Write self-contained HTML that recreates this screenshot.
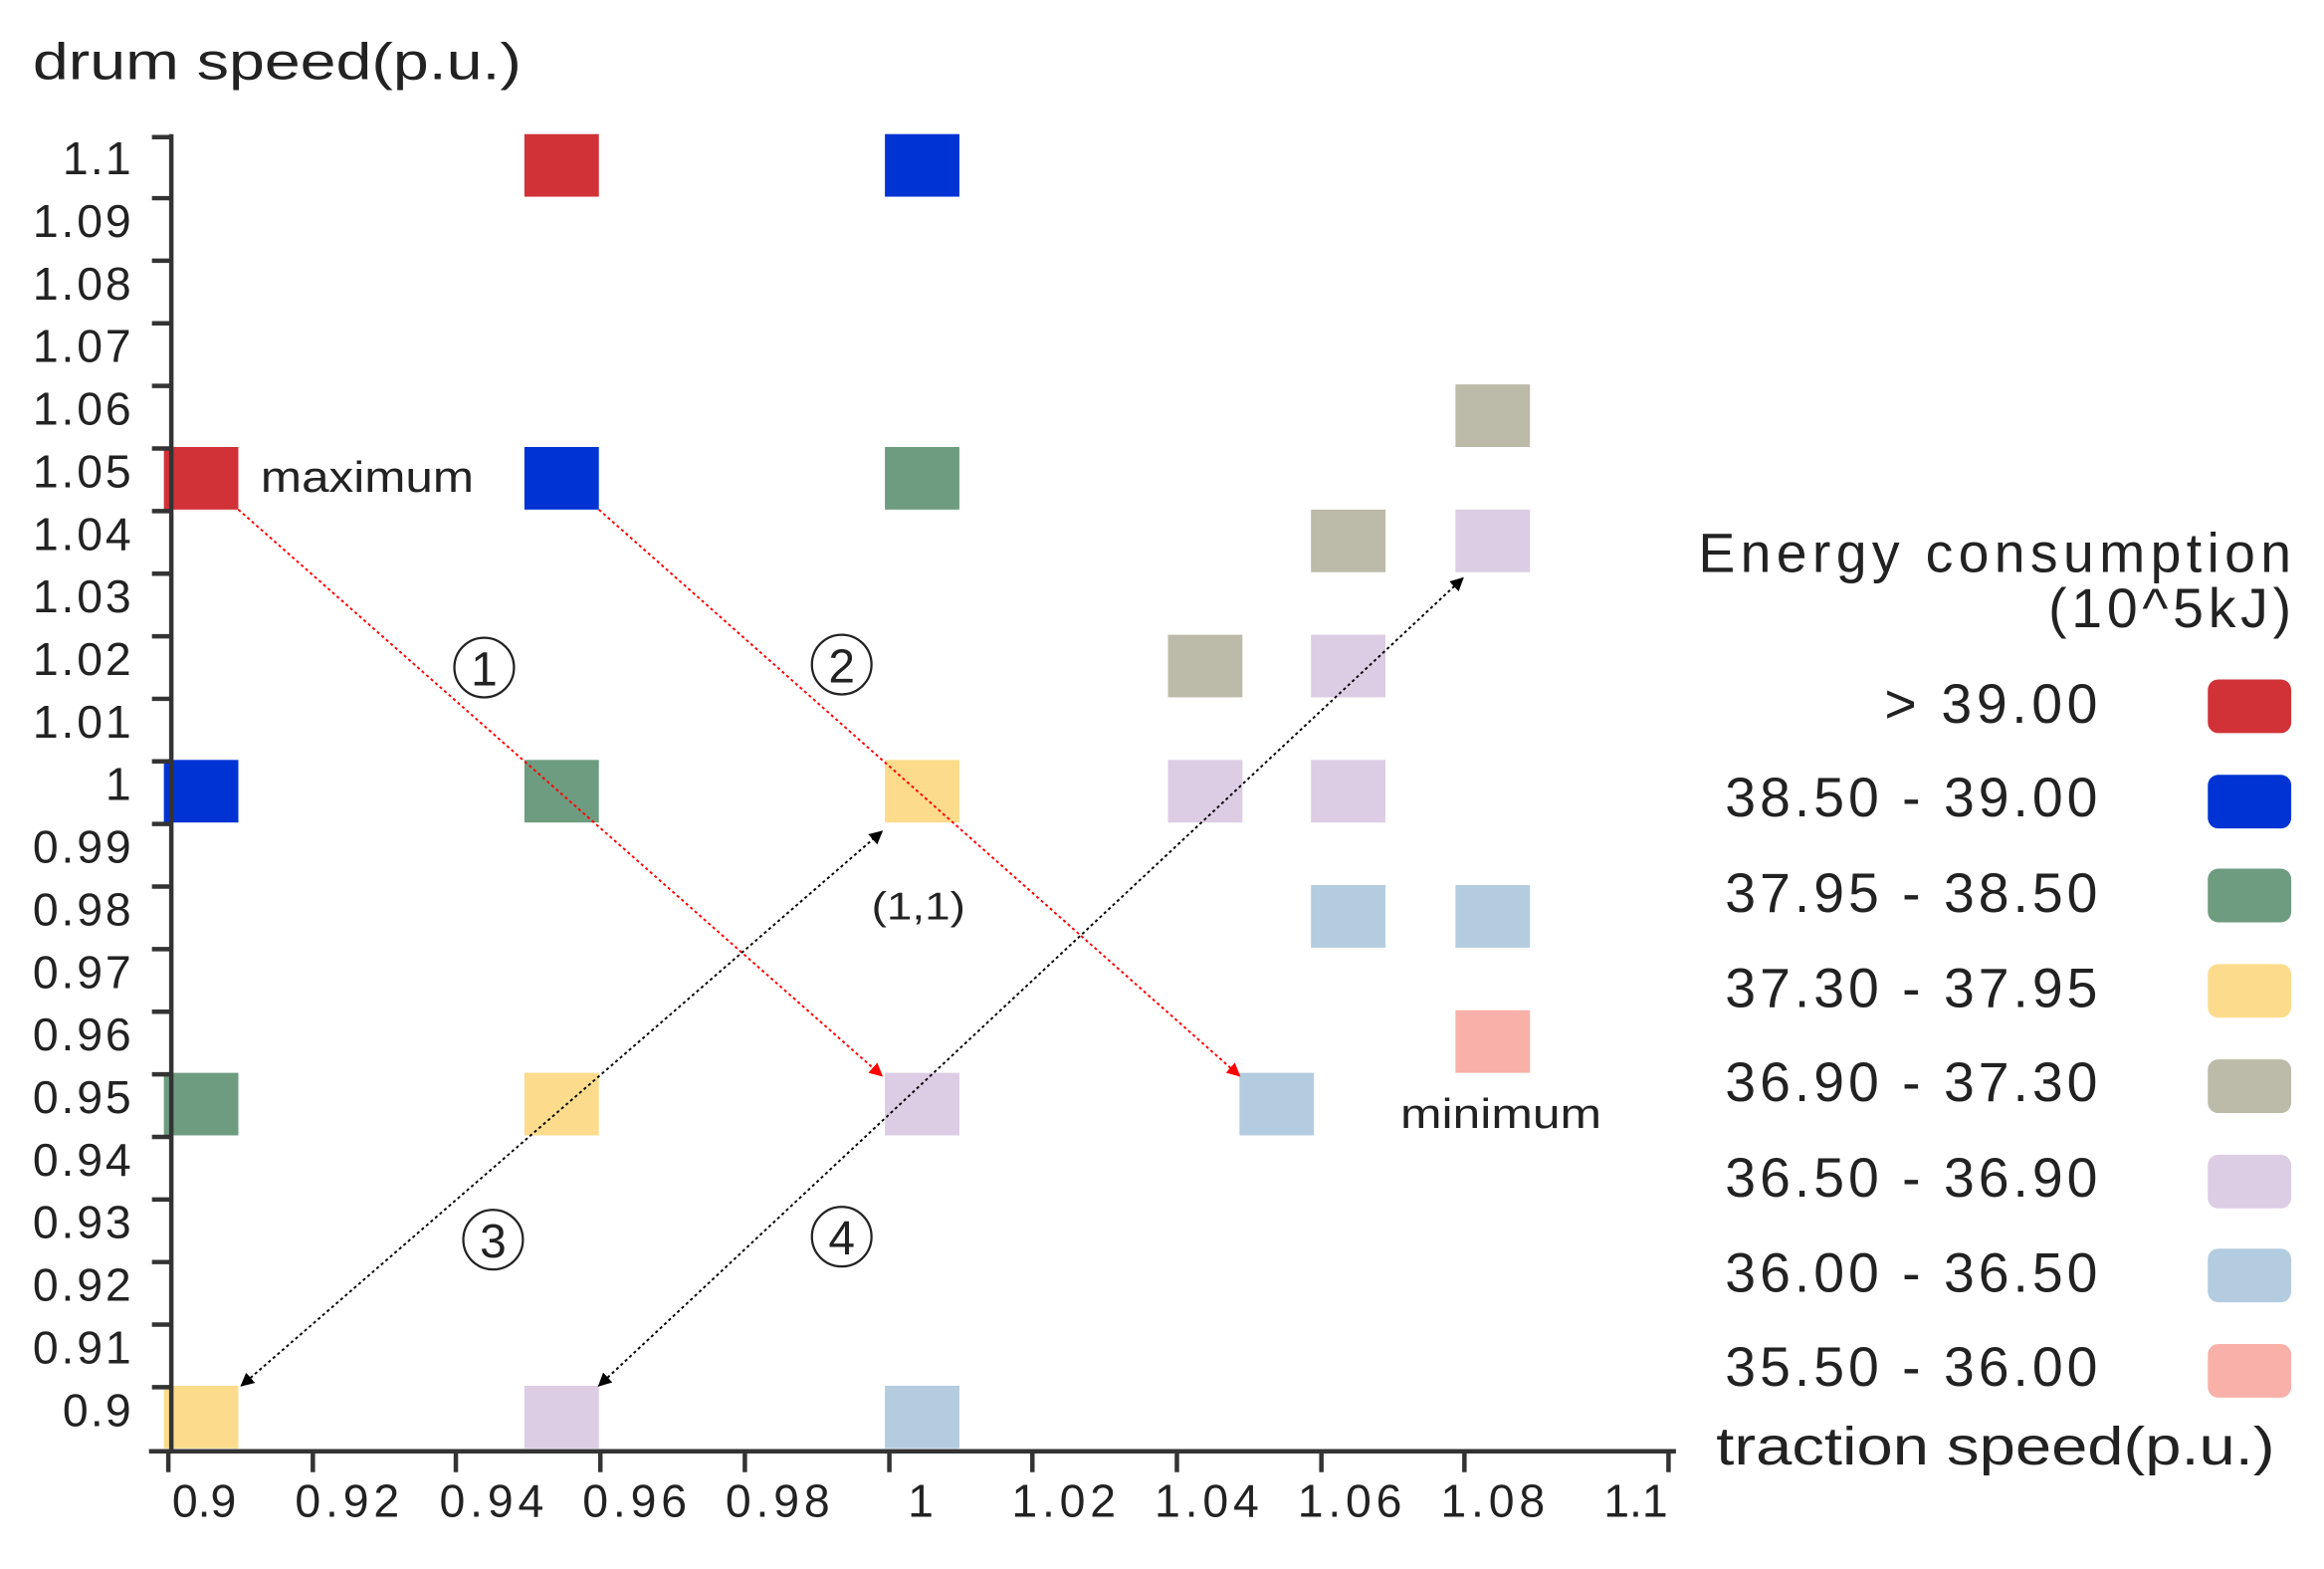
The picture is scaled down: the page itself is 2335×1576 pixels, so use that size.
<!DOCTYPE html>
<html><head><meta charset="utf-8"><style>
html,body{margin:0;padding:0;background:#fff;width:2335px;height:1576px;overflow:hidden}
svg{display:block}
text{font-family:"Liberation Sans",sans-serif;fill:#222}
</style></head><body>
<svg width="2335" height="1576" viewBox="0 0 1560 1053" preserveAspectRatio="none" xmlns="http://www.w3.org/2000/svg">
<defs>
<marker id="ar" viewBox="0 0 10 10" refX="9" refY="5" markerWidth="7" markerHeight="7" orient="auto-start-reverse"><path d="M0,0L10,5L0,10z" fill="#f00"/></marker>
<marker id="ab" viewBox="0 0 10 10" refX="9" refY="5" markerWidth="7" markerHeight="7" orient="auto-start-reverse"><path d="M0,0L10,5L0,10z" fill="#000"/></marker>
</defs>
<text x="22" y="53" font-size="35" textLength="328" lengthAdjust="spacingAndGlyphs">drum speed(p.u.)</text>
<g fill="#d03238"><rect x="352" y="90" width="50" height="42"/><rect x="110" y="300" width="50" height="42"/></g>
<g fill="#0033d4"><rect x="594" y="90" width="50" height="42"/><rect x="352" y="300" width="50" height="42"/><rect x="110" y="510" width="50" height="42"/></g>
<g fill="#6e9c80"><rect x="594" y="300" width="50" height="42"/><rect x="352" y="510" width="50" height="42"/><rect x="110" y="720" width="50" height="42"/></g>
<g fill="#fcdc8c"><rect x="594" y="510" width="50" height="42"/><rect x="352" y="720" width="50" height="42"/><rect x="110" y="930" width="50" height="42"/></g>
<g fill="#bcbaa8"><rect x="977" y="258" width="50" height="42"/><rect x="880" y="342" width="50" height="42"/><rect x="784" y="426" width="50" height="42"/></g>
<g fill="#dccce4"><rect x="977" y="342" width="50" height="42"/><rect x="880" y="426" width="50" height="42"/><rect x="784" y="510" width="50" height="42"/><rect x="880" y="510" width="50" height="42"/><rect x="594" y="720" width="50" height="42"/><rect x="352" y="930" width="50" height="42"/></g>
<g fill="#b4cce0"><rect x="880" y="594" width="50" height="42"/><rect x="977" y="594" width="50" height="42"/><rect x="832" y="720" width="50" height="42"/><rect x="594" y="930" width="50" height="42"/></g>
<rect x="977" y="678" width="50" height="42" fill="#f8b0a8"/>
<g stroke="#333" stroke-width="3" fill="none">
<path d="M115,90V974"/><path d="M100,974H1125"/>
<path d="M102,92H115M102,133H115M102,175H115M102,217H115M102,259H115M102,301H115M102,343H115M102,385H115M102,427H115M102,469H115M102,511H115M102,553H115M102,595H115M102,637H115M102,679H115M102,721H115M102,763H115M102,805H115M102,847H115M102,889H115M102,931H115"/>
<path d="M113,974V988M210,974V988M306,974V988M403,974V988M500,974V988M597,974V988M693,974V988M790,974V988M887,974V988M983,974V988M1120,974V988"/>
</g>
<g font-size="31" text-anchor="end" lengthAdjust="spacingAndGlyphs">
<text x="88" y="117" textLength="46">1.1</text><text x="88" y="159" textLength="66">1.09</text><text x="88" y="201" textLength="66">1.08</text><text x="88" y="243" textLength="66">1.07</text><text x="88" y="285" textLength="66">1.06</text><text x="88" y="327" textLength="66">1.05</text><text x="88" y="369" textLength="66">1.04</text><text x="88" y="411" textLength="66">1.03</text><text x="88" y="453" textLength="66">1.02</text><text x="88" y="495" textLength="66">1.01</text><text x="88" y="537">1</text><text x="88" y="579" textLength="66">0.99</text><text x="88" y="621" textLength="66">0.98</text><text x="88" y="663" textLength="66">0.97</text><text x="88" y="705" textLength="66">0.96</text><text x="88" y="747" textLength="66">0.95</text><text x="88" y="789" textLength="66">0.94</text><text x="88" y="831" textLength="66">0.93</text><text x="88" y="873" textLength="66">0.92</text><text x="88" y="915" textLength="66">0.91</text><text x="88" y="957" textLength="46">0.9</text>
</g>
<g font-size="31" text-anchor="middle">
<text x="137" y="1018">0.9</text><text x="233" y="1018" textLength="70">0.92</text><text x="330" y="1018" textLength="70">0.94</text><text x="426" y="1018" textLength="70">0.96</text><text x="522" y="1018" textLength="70">0.98</text><text x="618" y="1018">1</text><text x="714" y="1018" textLength="70">1.02</text><text x="810" y="1018" textLength="70">1.04</text><text x="906" y="1018" textLength="70">1.06</text><text x="1002" y="1018" textLength="70">1.08</text><text x="1098" y="1018">1.1</text>
</g>
<g stroke-dasharray="2,2" stroke-width="1.3" fill="none">
<path d="M160,342L592,722" stroke="#f00" marker-end="url(#ar)"/>
<path d="M402,342L832,722" stroke="#f00" marker-end="url(#ar)"/>
<path d="M162,930L592,558" stroke="#000" marker-start="url(#ab)" marker-end="url(#ab)"/>
<path d="M402,930L982,388" stroke="#000" marker-start="url(#ab)" marker-end="url(#ab)"/>
</g>
<g fill="none" stroke="#222" stroke-width="1.5">
<circle cx="325" cy="448" r="20"/><circle cx="565" cy="446" r="20"/><circle cx="331" cy="832" r="20"/><circle cx="565" cy="830" r="20"/>
</g>
<g font-size="32" text-anchor="middle">
<text x="325" y="460">1</text><text x="565" y="458">2</text><text x="331" y="844">3</text><text x="565" y="842">4</text>
</g>
<text x="585" y="617" font-size="26" textLength="63" lengthAdjust="spacingAndGlyphs">(1,1)</text>
<text x="175" y="330" font-size="29" textLength="143" lengthAdjust="spacingAndGlyphs">maximum</text>
<text x="940" y="757" font-size="28" textLength="135" lengthAdjust="spacingAndGlyphs">minimum</text>
<g font-size="37" text-anchor="end" lengthAdjust="spacingAndGlyphs">
<text x="1538" y="384" textLength="398">Energy consumption</text>
<text x="1538" y="421" textLength="163">(10^5kJ)</text>
<text x="1408" y="485" textLength="143">&gt; 39.00</text><text x="1408" y="548" textLength="250">38.50 - 39.00</text><text x="1408" y="612" textLength="250">37.95 - 38.50</text><text x="1408" y="676" textLength="250">37.30 - 37.95</text><text x="1408" y="739" textLength="250">36.90 - 37.30</text><text x="1408" y="803" textLength="250">36.50 - 36.90</text><text x="1408" y="867" textLength="250">36.00 - 36.50</text><text x="1408" y="930" textLength="250">35.50 - 36.00</text>
</g>
<g>
<rect x="1482" y="456" width="56" height="36" rx="7" fill="#d03238"/>
<rect x="1482" y="520" width="56" height="36" rx="7" fill="#0033d4"/>
<rect x="1482" y="583" width="56" height="36" rx="7" fill="#6e9c80"/>
<rect x="1482" y="647" width="56" height="36" rx="7" fill="#fcdc8c"/>
<rect x="1482" y="711" width="56" height="36" rx="7" fill="#bcbaa8"/>
<rect x="1482" y="775" width="56" height="36" rx="7" fill="#dccce4"/>
<rect x="1482" y="838" width="56" height="36" rx="7" fill="#b4cce0"/>
<rect x="1482" y="902" width="56" height="36" rx="7" fill="#f8b0a8"/>
</g>
<text x="1152" y="983" font-size="36" textLength="375" lengthAdjust="spacingAndGlyphs">traction speed(p.u.)</text>
</svg>
</body></html>
